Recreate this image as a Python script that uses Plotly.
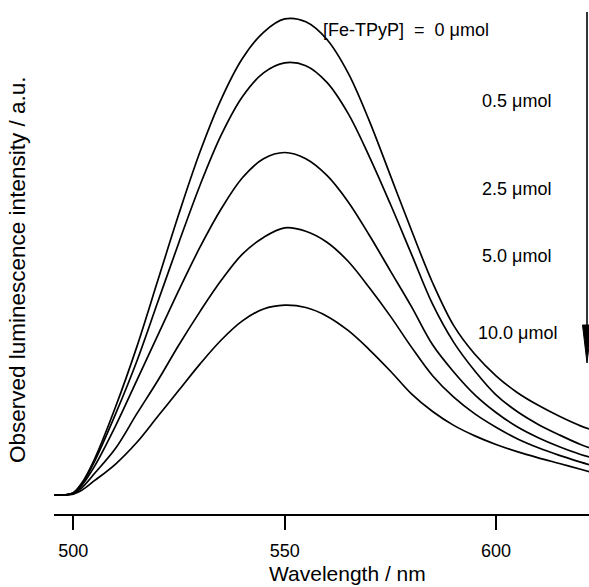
import plotly.graph_objects as go

# Wavelength grid (nm)
wavelength = [495, 498, 500, 502, 505, 510, 515, 520, 525, 530, 535, 540, 545, 550,
              555, 560, 565, 570, 575, 580, 585, 590, 595, 600, 605, 610, 615, 620, 625]

# Observed luminescence intensity (a.u.) for each [Fe-TPyP] amount
i_0_0 = [0, 0, 0.5, 2.5, 7.5, 18.5, 31, 45, 59, 72, 83, 91.5, 97, 99.8,
         99.2, 95.5, 88.5, 78.5, 67, 55.5, 44.5, 35.5, 29.5, 25, 21.5, 18.8, 16.5, 14.5, 13]
i_0_5 = [0, 0, 0.4, 2.2, 7, 17, 28, 40.5, 53, 65, 75.5, 83.5, 88.5, 90.6,
         90, 86.5, 80, 71, 61, 50.5, 40, 32, 26, 21, 17.5, 14.8, 12.6, 10.6, 9]
i_2_5 = [0, 0, 0.4, 2, 6, 14.5, 24, 33.5, 43, 52, 60, 66.5, 70.5, 71.8,
         70.5, 67, 61.5, 54.5, 47, 39.5, 31.5, 25.8, 21, 17.3, 14.3, 12, 10.1, 8.5, 7.3]
i_5_0 = [0, 0, 0.3, 1.5, 4.5, 9.8, 17, 24, 31.5, 38.5, 45, 50.5, 54, 56,
         55.3, 53, 49, 43.5, 37.5, 31, 25, 20.5, 17, 14.2, 11.8, 9.9, 8.3, 6.9, 5.6]
i_10_0 = [0, 0, 0.2, 1, 3, 6.5, 11, 16.5, 22, 27.5, 32.5, 36.5, 39, 39.8,
          39.3, 37.5, 34.5, 30.5, 26, 21.2, 17.5, 14.6, 12.4, 10.6, 9.1, 7.8, 6.6, 5.4, 4.2]

series = [i_0_0, i_0_5, i_2_5, i_5_0, i_10_0]
labels = ["[Fe-TPyP]\u00a0\u00a0=\u00a0\u00a00 \u03bcmol", "0.5 \u03bcmol", "2.5 \u03bcmol",
          "5.0 \u03bcmol", "10.0 \u03bcmol"]
tick_vals = [500, 550, 600]

W, H = 589, 587
L, R, T, B = 54, 0, 0, 73
pw, ph = W - L - R, H - T - B

def px(xp):
    return (xp - L) / pw

def py(yp):
    return (H - B - yp) / ph

FONT = "Liberation Sans, Arial, Helvetica, sans-serif"

fig = go.Figure()
for s in series:
    fig.add_trace(go.Scatter(x=wavelength, y=s, mode="lines",
                             line=dict(color="black", width=1.7, shape="spline", smoothing=1.0),
                             showlegend=False, hoverinfo="skip"))

# Label positions (pixel positions of left edge / vertical centre)
label_pos = [(321, 30), (480, 101), (480, 189), (480, 256), (476, 333)]
for text, (xp, yp) in zip(labels, label_pos):
    fig.add_annotation(text=text, x=px(xp), y=py(yp), xref="paper", yref="paper",
                       xanchor="left", yanchor="middle", showarrow=False,
                       font=dict(family=FONT, size=18, color="black"))

# Axis titles
fig.add_annotation(text="Wavelength / nm", x=px(347), y=py(573), xref="paper", yref="paper",
                   xanchor="center", yanchor="middle", showarrow=False,
                   font=dict(family=FONT, size=21, color="black"))
fig.add_annotation(text="Observed luminescence intensity / a.u.", x=px(17), y=py(270),
                   xref="paper", yref="paper", xanchor="center", yanchor="middle",
                   textangle=-90, showarrow=False,
                   font=dict(family=FONT, size=22.5, color="black"))

# Downward arrow at right
ax_x = px(587)
fig.add_shape(type="line", xref="paper", yref="paper", x0=ax_x, x1=ax_x,
              y0=py(12), y1=py(330), line=dict(color="black", width=1.6))
hw = 4.5 / pw
fig.add_shape(type="path", xref="paper", yref="paper",
              path=f"M {ax_x-hw} {py(325)} L {ax_x+hw} {py(325)} L {ax_x} {py(363)} Z",
              fillcolor="black", line=dict(color="black", width=1))

fig.update_layout(
    width=W, height=H,
    margin=dict(l=L, r=R, t=T, b=B),
    paper_bgcolor="white", plot_bgcolor="white",
    xaxis=dict(range=[495.43, 622.0], tickvals=tick_vals, ticks="outside", ticklen=14,
               tickwidth=1.5, tickcolor="black", showline=True, linecolor="black",
               linewidth=1.5, showgrid=False, zeroline=False, ticklabelstandoff=6,
               tickfont=dict(family=FONT, size=18, color="black")),
    yaxis=dict(range=[-3.98, 103.77], visible=False),
)

fig.write_html("out.html")
